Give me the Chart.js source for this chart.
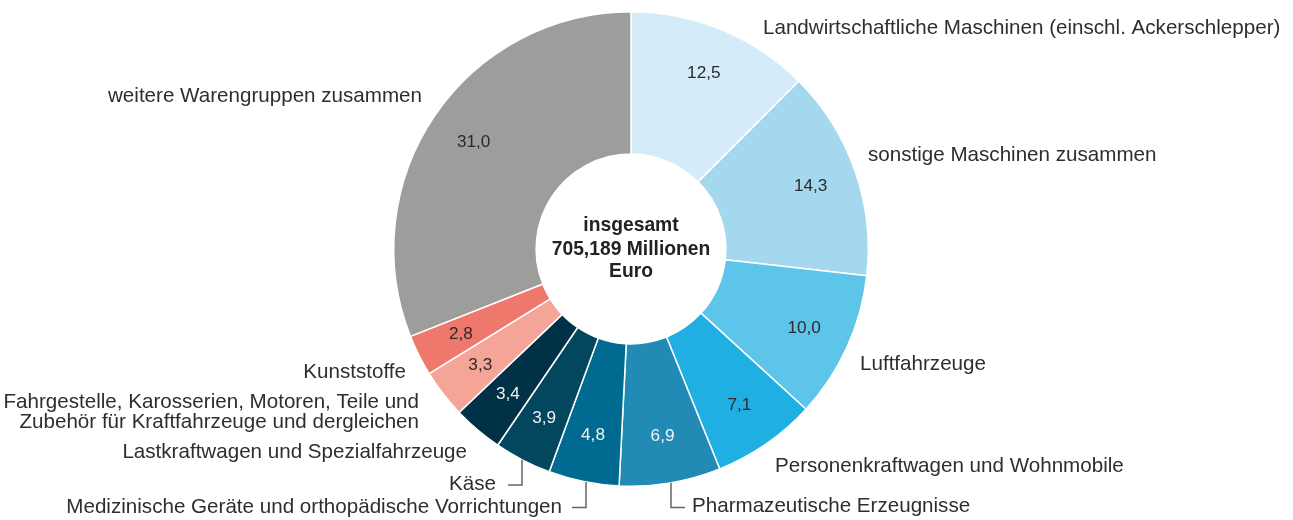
<!DOCTYPE html>
<html>
<head>
<meta charset="utf-8">
<script src="https://cdn.jsdelivr.net/npm/chart.js@4.4.1/dist/chart.umd.min.js"></script>
<style>
  html, body { margin: 0; padding: 0; background: #ffffff; }
  #wrap { width: 1293px; height: 520px; position: relative; }
</style>
</head>
<body>
<div id="wrap"><canvas id="c" width="1293" height="520"></canvas></div>
<script>
// ---- data ----
const categories = [
  "Landwirtschaftliche Maschinen (einschl. Ackerschlepper)",
  "sonstige Maschinen zusammen",
  "Luftfahrzeuge",
  "Personenkraftwagen und Wohnmobile",
  "Pharmazeutische Erzeugnisse",
  "Medizinische Geräte und orthopädische Vorrichtungen",
  "Käse",
  "Lastkraftwagen und Spezialfahrzeuge",
  "Fahrgestelle, Karosserien, Motoren, Teile und|Zubehör für Kraftfahrzeuge und dergleichen",
  "Kunststoffe",
  "weitere Warengruppen zusammen"
];
const shares = [12.5, 14.3, 10.0, 7.1, 6.9, 4.8, 3.9, 3.4, 3.3, 2.8, 31.0];
const valueLabels = ["12,5", "14,3", "10,0", "7,1", "6,9", "4,8", "3,9", "3,4", "3,3", "2,8", "31,0"];
const centerLines = ["insgesamt", "705,189 Millionen", "Euro"];

// ---- styling ----
const colors = ["#d4ecfa", "#a3d8ef", "#5dc5ea", "#20afe2", "#218bb6", "#006a91", "#03475f", "#003147", "#f4a598", "#ef786d", "#9d9d9c"];
const valueColors = ["#2b2b2b", "#2b2b2b", "#2b2b2b", "#2b2b2b", "#f2f2f2", "#f2f2f2", "#f2f2f2", "#f2f2f2", "#2b2b2b", "#2b2b2b", "#2b2b2b"];
// outside label anchors (pixel offsets from the doughnut centre), alignment
const labelLayout = [
  {dx: 132, dy: -215, align: "left"},
  {dx: 237, dy: -88, align: "left"},
  {dx: 229, dy: 121, align: "left"},
  {dx: 144, dy: 223, align: "left"},
  {dx: 61, dy: 263, align: "left", leader: {x: 40, y: 258.5, x2: 54}},
  {dx: -69, dy: 264, align: "right", leader: {x: -45, y: 258.5, x2: -59}},
  {dx: -135, dy: 241, align: "right", leader: {x: -109, y: 236, x2: -123}},
  {dx: -164, dy: 209, align: "right"},
  {dx: -212, dy: 159, align: "right"},
  {dx: -225, dy: 129, align: "right"},
  {dx: -209, dy: -147, align: "right"}
];
const FONT = '"Liberation Sans", Arial, sans-serif';

const labelPlugin = {
  id: "labelPlugin",
  afterDatasetsDraw(chart) {
    const ctx = chart.ctx;
    const meta = chart.getDatasetMeta(0);
    ctx.save();
    meta.data.forEach((arc, i) => {
      const p = arc.getProps(["x", "y", "startAngle", "endAngle", "innerRadius", "outerRadius"], true);
      const mid = (p.startAngle + p.endAngle) / 2;
      const r = p.innerRadius + 0.67 * (p.outerRadius - p.innerRadius);
      ctx.font = "17.2px " + FONT;
      ctx.fillStyle = valueColors[i];
      ctx.textAlign = "center";
      ctx.textBaseline = "middle";
      ctx.fillText(valueLabels[i], p.x + Math.cos(mid) * r, p.y + Math.sin(mid) * r);

      const L = labelLayout[i];
      ctx.font = "20.6px " + FONT;
      ctx.fillStyle = "#2e2e2e";
      ctx.textAlign = L.align;
      ctx.textBaseline = "alphabetic";
      const lines = categories[i].split("|");
      lines.forEach((ln, k) => {
        ctx.fillText(ln, p.x + L.dx, p.y + L.dy + k * 19.5);
      });
      if (L.leader) {
        const R = p.outerRadius;
        const lx = p.x + L.leader.x;
        const y0 = p.y + Math.sqrt(R * R - L.leader.x * L.leader.x);
        ctx.strokeStyle = "#666666";
        ctx.lineWidth = 1.5;
        ctx.beginPath();
        ctx.moveTo(lx, y0);
        ctx.lineTo(lx, p.y + L.leader.y);
        ctx.lineTo(p.x + L.leader.x2, p.y + L.leader.y);
        ctx.stroke();
      }
    });
    // centre text
    const a0 = meta.data[0];
    ctx.font = "bold 19.3px " + FONT;
    ctx.fillStyle = "#222";
    ctx.textAlign = "center";
    ctx.textBaseline = "alphabetic";
    const base = [-18, 6, 28];
    centerLines.forEach((t, k) => ctx.fillText(t, a0.x, a0.y + base[k]));
    ctx.restore();
  }
};

new Chart(document.getElementById("c"), {
  type: "doughnut",
  data: {
    labels: categories,
    datasets: [{
      data: shares,
      backgroundColor: colors,
      borderColor: "#ffffff",
      borderWidth: 1.5,
      hoverOffset: 0
    }]
  },
  options: {
    responsive: false,
    animation: false,
    cutout: "40%",
    rotation: 0,
    layout: { padding: { top: 11, bottom: 33, left: 393, right: 424 } },
    plugins: { legend: { display: false }, tooltip: { enabled: false } }
  },
  plugins: [labelPlugin]
});
</script>
</body>
</html>
